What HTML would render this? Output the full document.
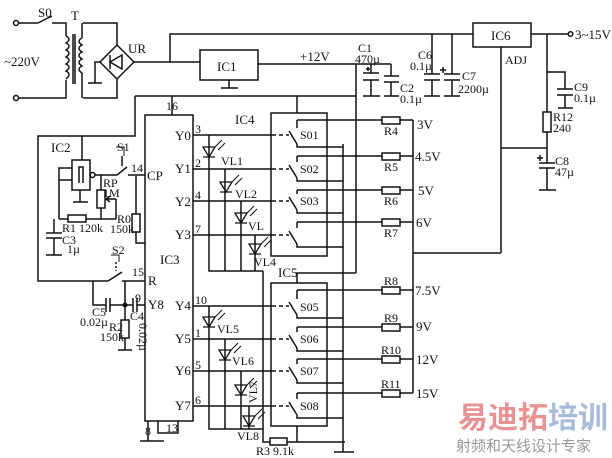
<!DOCTYPE html>
<html><head><meta charset="utf-8"><style>
html,body{margin:0;padding:0;background:#fff;}
svg{display:block}
text{font-family:"Liberation Serif",serif;font-size:13px;fill:#111}
.s{font-size:12px}
</style></head><body>
<svg width="612" height="458" viewBox="0 0 612 458" xmlns="http://www.w3.org/2000/svg">
<g stroke="#111" stroke-width="1.5" fill="none">
<circle cx="16" cy="23" r="2.5" fill="#fff"/><circle cx="16" cy="98" r="2.5" fill="#fff"/>
<path d="M18.5 23H38 M38 23L52 16 M52 23H66V36 M18.5 98H66V80"/>
<path d="M66 36 q6 3 0 7 q6 3 0 7 q6 3 0 7 q6 3 0 7 q6 3 0 7 q6 3 0 8"/>
<path d="M82 38 q-6 3 0 7 q-6 3 0 7 q-6 3 0 7 q-6 3 0 7 q-6 3 0 7"/>
<path d="M73 34V84 M75 34V84"/>
<path d="M83 23H117V45 M83 98H117V79 M82 38V23 M82 73V98"/>
<path d="M117 45L134 62L117 79L100 62Z"/>
<path d="M110 55V69 M110 62L122 55V69Z M122 55V69" />
<path d="M100 62H95V83 M88 83H102"/>
<path d="M134 62H200 M170 62V34H473"/>
<rect x="200" y="50" width="58" height="30"/>
<path d="M229 80V88 M221 88H238"/>
<path d="M258 64H391 M356 64V273"/>
<path d="M371 64V73 M363 73H379 M363 80H379 M371 80V96 M363 96H380 M366 69H370 M368 67V71"/>
<path d="M391 64V76 M384 76H399 M384 82H399 M391 82V96 M384 96H399"/>
<path d="M432 34V74 M424 74H440 M424 80H440 M432 80V96 M424 96H440"/>
<path d="M452 34V74 M444 74H460 M444 80H460 M452 80V96 M444 96H460 M440 70H446 M443 67V73"/>
<rect x="473" y="23" width="58" height="24"/>
<path d="M531 34H568 M501 47V253 M413 120V253H501"/>
<circle cx="570.5" cy="34" r="2.3" fill="#fff"/>
<path d="M547 34V112 M547 72H565V89 M557 89H573 M557 95H573 M565 95V108 M558 108H573"/>
<rect x="543" y="112" width="8" height="20"/>
<path d="M547 132V163 M501 148H547 M539 163H555 M539 168H555 M547 168V190 M539 190H556 M537 158H543 M540 155V161"/>
<path d="M135 96H356 M172 96V115 M297 96V113 M135 96V136H38V281H108 M108 281L122 272 M122 281H145"/>
<path d="M82 136V160"/>
<rect x="72" y="160" width="18" height="30"/>
<path d="M79 183V167H83V183"/>
<circle cx="92.5" cy="175" r="2.5"/>
<path d="M80 190V202 M73 202H88 M72 168H59V219 M59 180H72"/>
<path d="M95 175H117 M117 175L127 167 M128 175H145 M122 156V166"/>
<path d="M116 147H124V156 M124 147V151" stroke-width="1"/>
<path d="M101 175V190 M101 208V219 M59 219H68 M86 219H116 M116 199V219 M116 199H106 M106 199L110 196 M106 199L110 202"/>
<rect x="97" y="190" width="8" height="18"/><rect x="68" y="215" width="18" height="7"/>
<path d="M54 219V233 M46 233H62 M46 238H62 M54 238V255 M46 255H62"/>
<path d="M136 176V214 M136 232V243H145"/><rect x="132" y="214" width="8" height="18"/>
<path d="M116 262V271" stroke-dasharray="2 2"/><path d="M111 255H119V262 M119 255V259" stroke-width="1"/>
<path d="M93 281V305H106 M106 298V312 M110 298V312 M110 305H133 M133 298V312 M137 298V312 M137 305H145 M125 281V320 M125 338V350 M118 350H132"/>
<rect x="121" y="320" width="8" height="18"/>
<circle cx="125" cy="305" r="1.8" fill="#111"/>
<rect x="145" y="115" width="48" height="306"/>
<path d="M148 421V441 M140 441H164 M158 421V433H178V421"/>
<path d="M193 135H272 M193 169H272 M193 201H272 M193 235H272 M193 306H272 M193 339H272 M193 371H272 M193 406H272"/>
<path d="M272 135H289 M272 169H289 M272 201H289 M272 235H289 M272 306H289 M272 339H289 M272 371H289 M272 406H289" stroke-dasharray="4 3"/>
<path d="M209 135V271H263 M225 169V271 M241 201V271 M255 235V271 M263 271V442H270 M287 442H345"/>
<rect x="270" y="438" width="17" height="7"/>
<path d="M209 306V429H263 M225 339V429 M241 371V429 M249 406V429"/>
<rect x="271" y="113" width="56" height="143"/>
<rect x="271" y="283" width="56" height="143"/>
<path d="M297 283V273H356 M297 426V442 M343 144V452 M334 452H354"/>
<path d="M297 120V128 M297 120H382 M289 131L297 144 M297 144V147H343"/>
<path d="M297 156V162 M297 156H382 M289 165L297 178 M297 178V181H343"/>
<path d="M297 190V194 M297 190H382 M289 197L297 210 M297 210V213H343"/>
<path d="M297 222V228 M297 222H382 M289 231L297 244 M297 244V247H343"/>
<path d="M297 290V299 M297 290H382 M289 302L297 315 M297 315V318H343"/>
<path d="M297 327V332 M297 327H382 M289 335L297 348 M297 348V351H343"/>
<path d="M297 359V364 M297 359H382 M289 367L297 380 M297 380V383H343"/>
<path d="M297 393V399 M297 393H382 M289 402L297 415 M297 415V418H343"/>
<rect x="382" y="117" width="18" height="7"/><rect x="382" y="153" width="18" height="7"/>
<rect x="382" y="187" width="18" height="7"/><rect x="382" y="219" width="18" height="7"/>
<rect x="382" y="287" width="18" height="7"/><rect x="382" y="324" width="18" height="7"/>
<rect x="382" y="356" width="18" height="7"/><rect x="382" y="390" width="18" height="7"/>
<path d="M400 120H413 M400 156H413 M400 190H413 M400 222H413 M400 290H413 M400 327H413 M400 359H413 M400 393H413 M413 253V393"/>
</g>
<g stroke="#111" stroke-width="1.3" fill="none">
<path d="M203 147H215L209 157Z M203 157H215 M220 182H232L226 192Z M220 192H232 M235 213H247L241 223Z M235 223H247 M249 244H261L255 254Z M249 254H261"/>
<path d="M203 317H215L209 327Z M203 327H215 M219 350H231L225 360Z M219 360H231 M235 385H247L241 395Z M235 395H247 M243 416H255L249 426Z M243 426H255"/>
<path d="M215 147l7-7 M218 150l7-7 M232 182l7-7 M235 185l7-7 M247 213l7-7 M250 216l7-7 M261 244l7-7 M264 247l7-7 M215 317l7-7 M218 320l7-7 M231 350l7-7 M234 353l7-7 M247 385l7-7 M250 388l7-7 M255 416l7-7 M258 419l7-7" stroke-width="1"/>
</g>
<text x="38" y="17">S0</text><text x="71" y="20">T</text><text x="4" y="66">~220V</text>
<text x="128" y="53">UR</text><text x="217" y="71">IC1</text><text x="300" y="61">+12V</text>
<text x="358" y="52" class="s">C1</text><text x="355" y="63" class="s">470µ</text>
<text x="400" y="92" class="s">C2</text><text x="400" y="103" class="s">0.1µ</text>
<text x="418" y="59" class="s">C6</text><text x="410" y="70" class="s">0.1µ</text>
<text x="462" y="80" class="s">C7</text><text x="458" y="93" class="s">2200µ</text>
<text x="491" y="40">IC6</text><text x="505" y="64" class="s">ADJ</text><text x="575" y="39">3~15V</text>
<text x="574" y="91" class="s">C9</text><text x="574" y="102" class="s">0.1µ</text>
<text x="553" y="121" class="s">R12</text><text x="553" y="132" class="s">240</text>
<text x="555" y="165" class="s">C8</text><text x="555" y="176" class="s">47µ</text>
<text x="51" y="152">IC2</text><text x="117" y="151" class="s">S1</text>
<text x="131" y="172" class="s">14</text><text x="147" y="180">CP</text>
<text x="103" y="187" class="s">RP</text><text x="103" y="197" class="s">1M</text>
<text x="117" y="223" class="s">R0</text><text x="110" y="233" class="s">150k</text>
<text x="62" y="232" class="s">R1 120k</text><text x="62" y="244" class="s">C3</text><text x="67" y="253" class="s">1µ</text>
<text x="112" y="254" class="s">S2</text><text x="132" y="276" class="s">15</text><text x="148" y="285">R</text>
<text x="135" y="302" class="s">9</text><text x="148" y="309">Y8</text>
<text x="92" y="316" class="s">C5</text><text x="80" y="326" class="s">0.02µ</text>
<text x="109" y="331" class="s">R2</text><text x="100" y="341" class="s">150k</text>
<text x="130" y="320" class="s">C4</text>
<text x="0" y="0" class="s" transform="translate(139 323) rotate(90)">0.02µ</text>
<text x="160" y="264">IC3</text><text x="166" y="110" class="s">16</text>
<text x="145" y="435" class="s">8</text><text x="166" y="432" class="s">13</text>
<text x="175" y="140">Y0</text><text x="175" y="173">Y1</text><text x="175" y="206">Y2</text><text x="175" y="239">Y3</text>
<text x="175" y="310">Y4</text><text x="175" y="343">Y5</text><text x="175" y="375">Y6</text><text x="175" y="410">Y7</text>
<text x="195" y="133" class="s">3</text><text x="195" y="167" class="s">2</text><text x="195" y="199" class="s">4</text><text x="195" y="233" class="s">7</text>
<text x="195" y="304" class="s">10</text><text x="195" y="337" class="s">1</text><text x="195" y="369" class="s">5</text><text x="195" y="404" class="s">6</text>
<text x="235" y="124">IC4</text><text x="278" y="277">IC5</text>
<text x="221" y="165" class="s">VL1</text><text x="235" y="198" class="s">VL2</text><text x="248" y="230" class="s">VL</text><text x="254" y="266" class="s">VL4</text>
<text x="217" y="333" class="s">VL5</text><text x="232" y="365" class="s">VL6</text>
<text x="0" y="0" class="s" transform="translate(257 403) rotate(-90)">VL7</text>
<text x="237" y="440" class="s">VL8</text><text x="256" y="455" class="s">R3 9.1k</text>
<text x="300" y="139" class="s">S01</text><text x="300" y="173" class="s">S02</text><text x="300" y="205" class="s">S03</text>
<text x="300" y="311" class="s">S05</text><text x="300" y="343" class="s">S06</text><text x="300" y="375" class="s">S07</text><text x="300" y="410" class="s">S08</text>
<text x="384" y="135" class="s">R4</text><text x="384" y="171" class="s">R5</text><text x="384" y="205" class="s">R6</text><text x="384" y="237" class="s">R7</text>
<text x="384" y="285" class="s">R8</text><text x="384" y="322" class="s">R9</text><text x="381" y="354" class="s">R10</text><text x="381" y="388" class="s">R11</text>
<text x="417" y="129">3V</text><text x="415" y="161">4.5V</text><text x="418" y="195">5V</text><text x="416" y="227">6V</text>
<text x="415" y="295">7.5V</text><text x="416" y="331">9V</text><text x="416" y="364">12V</text><text x="416" y="398">15V</text>
<text x="458" y="428" style="font-family:'Noto Sans CJK SC',sans-serif;font-size:30px;font-weight:bold;fill:#e07070;opacity:.75">易迪拓</text>
<text x="548" y="428" style="font-family:'Noto Sans CJK SC',sans-serif;font-size:30px;font-weight:bold;fill:#7090c0;opacity:.6">培训</text>
<text x="456" y="451" style="font-family:'Noto Sans CJK SC',sans-serif;font-size:15px;fill:#999">射频和天线设计专家</text>
</svg>
</body></html>
